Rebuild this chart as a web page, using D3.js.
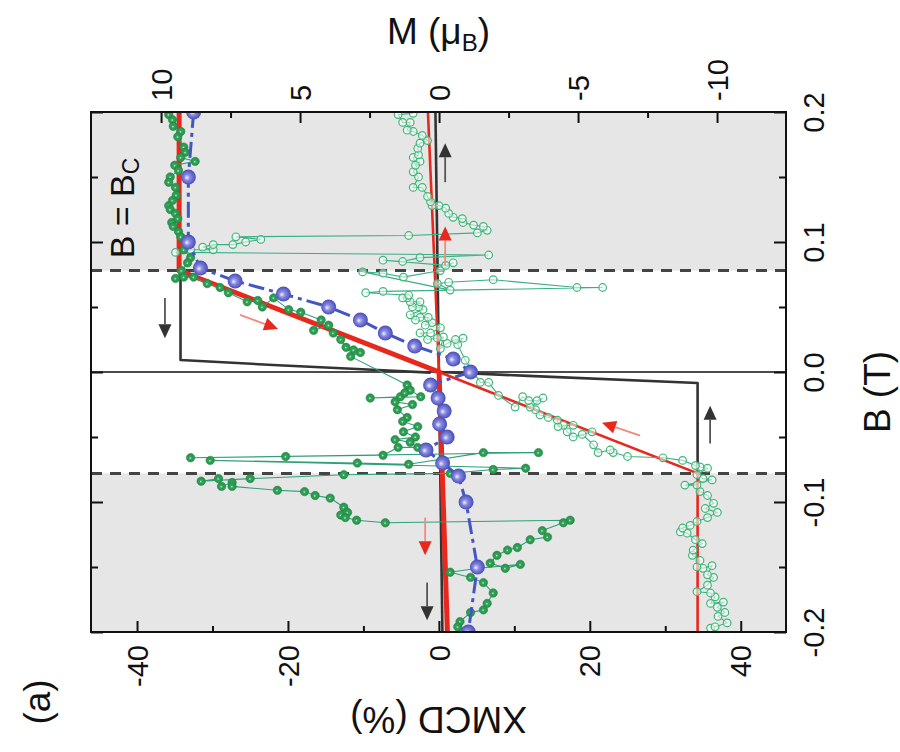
<!DOCTYPE html>
<html><head><meta charset="utf-8">
<script src="https://cdn.jsdelivr.net/npm/d3@7"></script>
<style>body{margin:0;background:#fff}svg{display:block;font-family:"Liberation Sans",Arial,Helvetica,sans-serif}</style>
</head><body><svg id="c" width="900" height="752"></svg>
<script>
// ---------- data ----------
const Bc = 0.078;
const xmcdTicks = [-40, -20, 0, 20, 40];
const xmcdMinor = [-30, -10, 10, 30];
const mTicks = [10, 5, 0, -5, -10];
const mMinor = [7.5, 2.5, -2.5, -7.5];
const bTicks = [0.2, 0.1, 0, -0.1, -0.2];
const bMinor = [0.15, 0.05, -0.05, -0.15];

// blue spheres: XMCD (%) vs B (T)
const blueB = [0.2,0.15,0.1,0.08,0.07,0.06,0.05,0.04,0.03,0.02,0.01,0,-0.01,-0.02,-0.03,-0.04,-0.05,-0.06,-0.07,-0.08,-0.1,-0.15,-0.2];
const blueX = [-32.5,-33.2,-33.2,-31.6,-27.0,-20.6,-14.6,-10.4,-7.1,-3.2,1.9,4.2,-1.1,-0.1,0.7,0.1,1.1,-1.7,0.5,2.6,3.6,5.1,3.9];

// red model curves: M (muB) vs B (T)
const redDownB = [0.2, 0.078, 0, -0.2];
const redDownM = [9.35, 9.35, 0, -0.3];
const redUpB = [-0.2, -0.078, 0, 0.2];
const redUpM = [-9.3, -9.3, 0, 0.4];

// black step curves: M (muB) vs B (T)
const blkMidB = [0.2, -0.2];
const blkMidM = [0.13, -0.12];
const blkDownB = [0.078, 0.0092, 0.0054, 0.0023, -0.0005];
const blkDownM = [9.3, 9.3, 5.97, 2.95, 0.3];
const blkUpB = [-0.078, -0.0085, -0.003, 0];
const blkUpM = [-9.3, -9.3, -3.2, 0];

// green filled (field decreasing): B (T), XMCD (%)
const fillB = [0.198,0.194,0.189,0.185,0.181,0.173,0.169,0.165,0.162,0.159,0.155,0.150,0.146,0.142,0.136,0.132,0.128,0.125,0.122,0.118,0.115,0.112,0.108,0.104,0.099,0.094,0.088,0.084,0.078,0.072,0.073,0.073,0.068,0.065,0.061,0.054,0.055,0.050,0.057,0.048,0.046,0.040,0.032,0.036,0.030,0.025,0.019,0.017,0.015,0.012,-0.010,-0.014,-0.019,-0.020,-0.019,-0.016,-0.023,-0.025,-0.029,-0.035,-0.038,-0.042,-0.046,-0.050,-0.052,-0.054,-0.058,-0.058,-0.064,-0.065,-0.066,-0.062,-0.062,-0.071,-0.070,-0.068,-0.074,-0.075,-0.078,-0.079,-0.082,-0.084,-0.082,-0.088,-0.085,-0.088,-0.091,-0.092,-0.095,-0.097,-0.104,-0.108,-0.110,-0.112,-0.114,-0.116,-0.114,-0.116,-0.122,-0.127,-0.129,-0.135,-0.137,-0.141,-0.147,-0.151,-0.148,-0.151,-0.154,-0.158,-0.162,-0.170,-0.178,-0.183,-0.185,-0.192,-0.196,-0.200];
const fillX = [-35.8,-35.3,-35.2,-34.2,-34.6,-33.8,-33.6,-34.2,-32.3,-35.0,-34.5,-35.6,-35.8,-34.9,-34.8,-35.3,-35.8,-35.6,-34.9,-34.6,-35.4,-35.2,-34.5,-34.2,-33.6,-33.8,-32.9,-33.3,-34.1,-34.9,-33.8,-32.5,-30.7,-29.0,-27.9,-25.4,-24.0,-23.4,-21.9,-19.9,-18.3,-15.6,-16.6,-14.6,-14.0,-13.0,-12.3,-11.3,-10.4,-11.7,-4.2,-3.8,-2.4,-9.1,-5.1,-4.5,-5.8,-3.5,-5.5,-4.2,-4.8,-2.8,-4.7,-3.1,-5.8,-3.8,-2.8,-5.4,-7.4,-20.3,-32.9,13.2,5.9,-4.0,-10.8,-30.3,11.5,7.2,1.5,-12.6,-25.0,-31.5,-29.2,-28.8,-27.4,-27.4,-21.4,-17.8,-16.4,-14.4,-12.6,-12.1,-13.0,-12.4,-10.9,-7.1,17.4,16.5,13.7,14.4,12.1,10.4,9.1,7.7,6.8,8.8,10.8,5.1,1.5,4.2,5.9,7.2,6.4,5.9,4.2,2.8,2.5,3.2];

// green open (field increasing): B (T), XMCD (%)
const openB = [-0.197,-0.196,-0.193,-0.188,-0.185,-0.181,-0.177,-0.178,-0.173,-0.170,-0.169,-0.164,-0.158,-0.156,-0.149,-0.151,-0.150,-0.145,-0.141,-0.137,-0.132,-0.129,-0.124,-0.123,-0.120,-0.118,-0.115,-0.112,-0.108,-0.105,-0.101,-0.095,-0.092,-0.087,-0.087,-0.083,-0.082,-0.079,-0.074,-0.073,-0.072,-0.068,-0.066,-0.065,-0.062,-0.060,-0.062,-0.056,-0.048,-0.046,-0.050,-0.046,-0.041,-0.041,-0.042,-0.037,-0.035,-0.033,-0.029,-0.027,-0.020,-0.022,-0.022,-0.019,-0.027,-0.018,-0.008,-0.008,0.009,0.021,0.026,0.025,0.022,0.018,0.027,0.026,0.025,0.030,0.030,0.034,0.038,0.036,0.042,0.042,0.040,0.044,0.048,0.050,0.050,0.054,0.054,0.057,0.057,0.059,0.061,0.062,0.065,0.065,0.071,0.069,0.068,0.063,0.077,0.076,0.073,0.078,0.084,0.082,0.086,0.085,0.088,0.090,0.092,0.094,0.094,0.096,0.098,0.098,0.100,0.102,0.104,0.105,0.107,0.109,0.112,0.113,0.115,0.118,0.119,0.122,0.126,0.128,0.128,0.131,0.135,0.142,0.142,0.150,0.154,0.162,0.159,0.165,0.167,0.172,0.176,0.178,0.182,0.185,0.186,0.192,0.192,0.198,0.199];
const openX = [36.0,36.6,38.2,37.0,37.9,36.9,37.7,36.0,36.6,36.0,34.2,35.6,36.4,35.6,36.2,35.0,34.2,34.6,33.6,33.7,34.9,34.0,32.9,32.0,32.3,33.3,34.2,35.6,36.9,35.3,36.4,35.6,34.6,34.2,32.6,36.2,35.0,34.2,35.6,34.6,34.0,32.3,29.7,25.0,23.1,22.7,21.1,20.5,19.0,20.3,17.8,17.0,16.5,17.8,15.8,15.7,14.5,13.4,12.8,12.1,13.8,13.0,11.9,11.1,10.1,7.9,6.6,5.5,3.5,2.5,3.2,2.2,1.1,0.2,0.6,-0.2,-1.5,-2.5,-1.1,0.2,-0.9,-1.8,-1.4,-2.5,-3.1,-3.8,-2.1,-2.7,-3.5,-2.5,-3.8,-4.2,-4.8,-4.0,-9.7,-7.4,21.7,18.3,7.2,1.3,-0.2,1.5,-10.1,-7.4,-4.7,0.2,1.9,0.9,-7.4,-4.8,-2.5,6.6,-34.9,-32.9,-29.9,-31.3,-29.9,-27.3,-25.6,-23.6,-26.9,-4.0,5.1,6.4,5.9,4.6,3.2,3.1,1.9,1.3,0.9,0.0,-0.9,-1.1,-1.5,-2.2,-3.4,-2.7,-3.4,-2.5,-3.1,-3.4,-2.7,-2.8,-2.5,-1.5,-2.2,-3.4,-4.2,-3.8,-4.8,-5.4,-3.4];

// sweep arrows: [B tail, M tail, B tip, M tip]
const blackArrows = [[0.146,-0.22,0.176,-0.22],[0.057,9.86,0.026,9.86],[-0.055,-9.75,-0.026,-9.75],[-0.162,0.43,-0.191,0.43]];
const redArrows = [[0.082,-0.22,0.112,-0.22],[-0.112,0.5,-0.141,0.5],[0.044,7.16,0.033,5.79],[-0.049,-7.23,-0.039,-5.86]];

// ---------- drawing ----------
const L = 91, R = 786, T = 112, Bt = 632;
const xX = d3.scaleLinear().domain([-46.1, 46.0]).range([L, R]);
const xM = d3.scaleLinear().domain([12.52, -12.48]).range([L, R]);
const yB = d3.scaleLinear().domain([-0.2, 0.2]).range([Bt, T]);

const svg = d3.select("#c");
const defs = svg.append("defs");
defs.append("clipPath").attr("id","clip").append("rect").attr("x",L).attr("y",T).attr("width",R-L).attr("height",Bt-T);
const grad = defs.append("radialGradient").attr("id","sph").attr("cx","50%").attr("cy","50%").attr("r","55%").attr("fx","38%").attr("fy","55%");
grad.append("stop").attr("offset","0%").attr("stop-color","#f2f2ff");
grad.append("stop").attr("offset","35%").attr("stop-color","#8a8ae0");
grad.append("stop").attr("offset","100%").attr("stop-color","#3c44b4");
const gF = defs.append("radialGradient").attr("id","gf").attr("cx","50%").attr("cy","50%").attr("r","50%").attr("fx","45%").attr("fy","55%");
gF.append("stop").attr("offset","0%").attr("stop-color","#d8f2dc");
gF.append("stop").attr("offset","30%").attr("stop-color","#36a55a");
gF.append("stop").attr("offset","100%").attr("stop-color","#23914a");

const plot = svg.append("g").attr("clip-path","url(#clip)");
// gray shaded regions |B| > Bc
plot.append("rect").attr("x",L).attr("width",R-L).attr("y",yB(0.2)).attr("height",yB(Bc)-yB(0.2)).attr("fill","#e6e6e6");
plot.append("rect").attr("x",L).attr("width",R-L).attr("y",yB(-Bc)).attr("height",yB(-0.2)-yB(-Bc)).attr("fill","#e6e6e6");
// dashed lines
[Bc, -Bc].forEach(b => plot.append("line").attr("x1",L).attr("x2",R).attr("y1",yB(b)).attr("y2",yB(b))
  .attr("stroke","#444").attr("stroke-width",3).attr("stroke-dasharray","11,8"));
// B = 0 line
plot.append("line").attr("x1",L).attr("x2",R).attr("y1",yB(0)).attr("y2",yB(0)).attr("stroke","#111").attr("stroke-width",1.6);

const lineM = d3.line().x(d => xM(d[1])).y(d => yB(d[0]));
const lineX = d3.line().x(d => xX(d[1])).y(d => yB(d[0]));
const zipd = (a, b) => a.map((v, i) => [v, b[i]]);

// black step curves
[[blkMidB, blkMidM],[blkDownB, blkDownM],[blkUpB, blkUpM]].forEach(([b, m]) =>
  plot.append("path").attr("d", lineM(zipd(b, m))).attr("fill","none").attr("stroke","#333").attr("stroke-width",2.6).attr("stroke-linejoin","round"));
// red curves
plot.append("path").attr("d", lineM(zipd(redUpB, redUpM))).attr("fill","none").attr("stroke","#e8281c").attr("stroke-width",2.6);
plot.append("path").attr("d", lineM(zipd(redDownB, redDownM))).attr("fill","none").attr("stroke","#e8281c").attr("stroke-width",5);

// green connecting lines
const fillPts = zipd(fillB, fillX), openPts = zipd(openB, openX);
plot.append("path").attr("d", lineX(openPts)).attr("fill","none").attr("stroke","#3aae84").attr("stroke-width",1.1);
plot.append("path").attr("d", lineX(fillPts)).attr("fill","none").attr("stroke","#2fa07a").attr("stroke-width",1.1);
plot.selectAll("circle.o").data(openPts).join("circle").attr("class","o")
  .attr("cx", d => xX(d[1])).attr("cy", d => yB(d[0])).attr("r",3.8)
  .attr("fill","rgba(255,255,255,0.55)").attr("stroke","#3cb878").attr("stroke-width",1.2);
plot.selectAll("circle.f").data(fillPts).join("circle").attr("class","f")
  .attr("cx", d => xX(d[1])).attr("cy", d => yB(d[0])).attr("r",4.2)
  .attr("fill","url(#gf)").attr("stroke","#228a45").attr("stroke-width",0.6);

// blue
const bluePts = zipd(blueB, blueX);
plot.append("path").attr("d", lineX(bluePts)).attr("fill","none").attr("stroke","#4456c4").attr("stroke-width",3).attr("stroke-dasharray","16,5,4,5");
plot.selectAll("circle.b").data(bluePts).join("circle").attr("class","b")
  .attr("cx", d => xX(d[1])).attr("cy", d => yB(d[0])).attr("r",7.5).attr("fill","url(#sph)");

// arrows
function arrow(a, color, shaft) {
  const x1 = xM(a[1]), y1 = yB(a[0]), x2 = xM(a[3]), y2 = yB(a[2]);
  const ang = Math.atan2(y2 - y1, x2 - x1), hl = 14, hw = 6.5;
  const bx = x2 - hl * Math.cos(ang), by = y2 - hl * Math.sin(ang);
  svg.append("line").attr("x1",x1).attr("y1",y1).attr("x2",bx).attr("y2",by).attr("stroke",shaft).attr("stroke-width",1.8);
  svg.append("path").attr("d",`M${x2},${y2}L${bx + hw*Math.sin(ang)},${by - hw*Math.cos(ang)}L${bx - hw*Math.sin(ang)},${by + hw*Math.cos(ang)}Z`).attr("fill",color);
}
blackArrows.forEach(a => arrow(a, "#333", "#555"));
redArrows.forEach(a => arrow(a, "#e8281c", "#f08a80"));

// frame
svg.append("rect").attr("x",L).attr("y",T).attr("width",R-L).attr("height",Bt-T).attr("fill","none").attr("stroke","#111").attr("stroke-width",2);

// axes
const FS = 29;
function styleAxis(g) { g.select(".domain").remove(); g.selectAll("line").attr("stroke","#111").attr("stroke-width",2); g.attr("font-size",FS).attr("font-family","'Liberation Sans', Arial, sans-serif"); g.selectAll("text").attr("fill","#111"); }
const axTop = svg.append("g").attr("transform",`translate(0,${T})`).call(d3.axisTop(xM).tickValues(mTicks).tickSizeInner(-11).tickSizeOuter(0).tickFormat(d => String(d)));
styleAxis(axTop);
axTop.selectAll("text").attr("x",0).attr("y",0).attr("dy","0.35em").attr("text-anchor","start").attr("transform","translate(0,-11) rotate(-90)");
svg.append("g").attr("transform",`translate(0,${T})`).call(d3.axisTop(xM).tickValues(mMinor).tickSizeInner(-6).tickSizeOuter(0).tickFormat("")).call(styleAxis);

const axBot = svg.append("g").attr("transform",`translate(0,${Bt})`).call(d3.axisBottom(xX).tickValues(xmcdTicks).tickSizeInner(-11).tickSizeOuter(0).tickFormat(d => String(d)));
styleAxis(axBot);
axBot.selectAll("text").attr("x",0).attr("y",0).attr("dy","0.35em").attr("text-anchor","end").attr("transform","translate(0,13) rotate(-90)");
svg.append("g").attr("transform",`translate(0,${Bt})`).call(d3.axisBottom(xX).tickValues(xmcdMinor).tickSizeInner(-6).tickSizeOuter(0).tickFormat("")).call(styleAxis);

const axRgt = svg.append("g").attr("transform",`translate(${R},0)`).call(d3.axisRight(yB).tickValues(bTicks).tickSizeInner(-12).tickSizeOuter(0).tickFormat(d => d.toFixed(1)));
styleAxis(axRgt);
axRgt.selectAll("text").attr("x",0).attr("y",0).attr("dy",0).attr("text-anchor","middle").attr("transform","translate(38,0) rotate(-90)");
svg.append("g").attr("transform",`translate(${R},0)`).call(d3.axisRight(yB).tickValues(bMinor).tickSizeInner(-7).tickSizeOuter(0).tickFormat("")).call(styleAxis);
svg.append("g").attr("transform",`translate(${L},0)`).call(d3.axisLeft(yB).tickValues(bTicks).tickSizeInner(-12).tickSizeOuter(0).tickFormat("")).call(styleAxis);
svg.append("g").attr("transform",`translate(${L},0)`).call(d3.axisLeft(yB).tickValues(bMinor).tickSizeInner(-7).tickSizeOuter(0).tickFormat("")).call(styleAxis);

// titles
const TF = 37;
const tM = svg.append("text").attr("x",(L+R)/2).attr("y",44).attr("text-anchor","middle").attr("font-size",TF).attr("fill","#111");
tM.append("tspan").text("M (μ");
tM.append("tspan").attr("font-size",TF*0.65).attr("dy","0.28em").text("B");
tM.append("tspan").attr("dy","-0.18em").text(")");
svg.append("text").attr("transform",`translate(${(L+R)/2},707) rotate(180)`).attr("text-anchor","middle").attr("font-size",TF).attr("fill","#111").text("XMCD (%)");
svg.append("text").attr("transform",`translate(890,392) rotate(-90)`).attr("text-anchor","middle").attr("font-size",TF).attr("fill","#111").text("B (T)");
svg.append("text").attr("transform",`translate(50,702) rotate(-90)`).attr("text-anchor","middle").attr("font-size",TF).attr("fill","#111").text("(a)");
const tb = svg.append("text").attr("transform",`translate(134,208) rotate(-90)`).attr("text-anchor","middle").attr("font-size",34).attr("fill","#111");
tb.append("tspan").text("B = B");
tb.append("tspan").attr("font-size",23).attr("dy","0.22em").text("C");
</script></body></html>
